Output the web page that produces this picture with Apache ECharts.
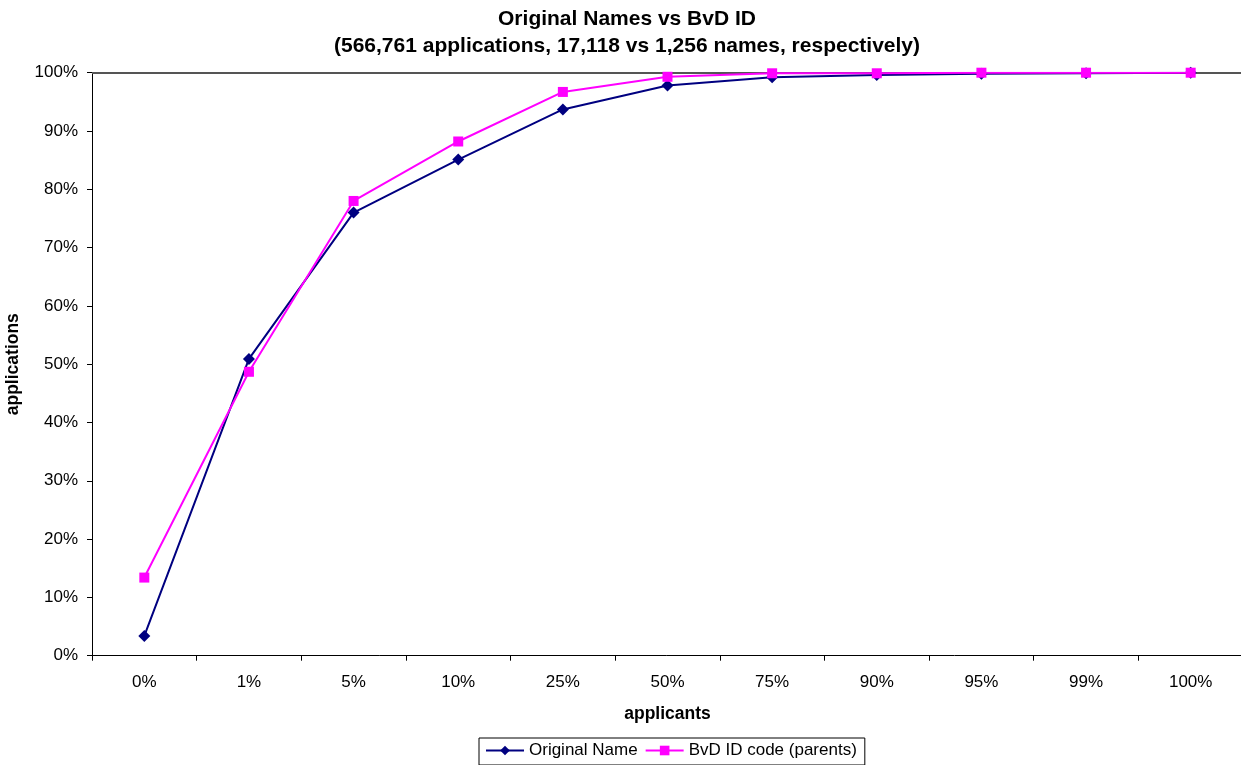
<!DOCTYPE html>
<html>
<head>
<meta charset="utf-8">
<script src="https://cdn.jsdelivr.net/npm/echarts@6/dist/echarts.min.js"></script>
<style>html,body{margin:0;padding:0;background:#fff;}#chart{width:1241px;height:765px;}</style>
</head>
<body>
<div id="chart"></div>
<script>
const categories = ['0%','1%','5%','10%','25%','50%','75%','90%','95%','99%','100%'];
const originalName = [0.034, 0.509, 0.760, 0.851, 0.937, 0.978, 0.992, 0.996, 0.998, 0.999, 1.0];
const bvdParents = [0.134, 0.487, 0.780, 0.882, 0.967, 0.993, 0.999, 0.999, 1.0, 1.0, 1.0];
const seriesNames = ['Original Name', 'BvD ID code (parents)'];
const titleLines = ['Original Names vs BvD ID', '(566,761 applications, 17,118 vs 1,256 names, respectively)'];

const FONT = 'Liberation Sans, Arial, sans-serif';
const chart = echarts.init(document.getElementById('chart'), null, {renderer: 'canvas'});
chart.setOption({
  animation: false,
  backgroundColor: '#fff',
  title: {
    text: titleLines.join('\n'),
    left: 622, textAlign: 'center', top: 1,
    textStyle: {fontFamily: FONT, fontSize: 21, fontWeight: 'bold', color: '#000', lineHeight: 27}
  },
  legend: {
    data: seriesNames,
    left: 479, top: 738,
    padding: [4, 8, 6, 6],
    itemGap: 7,
    itemWidth: 38, itemHeight: 12,
    borderColor: '#000', borderWidth: 1, borderRadius: 0,
    textStyle: {fontFamily: FONT, fontSize: 17, color: '#000'}
  },
  grid: {left: 92, right: -2, top: 72.7, bottom: 109.3, containLabel: false, outerBoundsMode: 'none'},
  xAxis: {
    type: 'category', data: categories, boundaryGap: true,
    name: 'applicants', nameLocation: 'middle', nameGap: 49,
    nameTextStyle: {fontFamily: FONT, fontSize: 17.5, fontWeight: 'bold', color: '#000'},
    axisLine: {lineStyle: {color: '#000', width: 1}},
    axisTick: {show: true, alignWithLabel: false, length: 5, lineStyle: {color: '#000'}},
    axisLabel: {fontFamily: FONT, fontSize: 17, color: '#000', margin: 18},
    splitLine: {show: false}
  },
  yAxis: {
    type: 'value', min: 0, max: 1, interval: 0.1,
    name: 'applications', nameLocation: 'middle', nameGap: 70, nameRotate: 90,
    nameTextStyle: {fontFamily: FONT, fontSize: 17.5, fontWeight: 'bold', color: '#000'},
    axisLine: {show: true, lineStyle: {color: '#000', width: 1}},
    axisTick: {show: true, length: 5, lineStyle: {color: '#000'}},
    axisLabel: {fontFamily: FONT, fontSize: 17, color: '#000', margin: 14,
      formatter: v => Math.round(v * 100) + '%'},
    splitLine: {show: false}
  },
  series: [
    {
      name: seriesNames[0], type: 'line', data: originalName,
      symbol: 'diamond', symbolSize: 12,
      itemStyle: {color: '#000080'},
      lineStyle: {color: '#000080', width: 2},
      z: 3,
      markLine: {
        silent: true, symbol: ['none','none'], label: {show: false},
        lineStyle: {color: '#555', width: 2, type: 'solid'},
        data: [{yAxis: 1}], z: 1
      }
    },
    {
      name: seriesNames[1], type: 'line', data: bvdParents,
      symbol: 'rect', symbolSize: 10,
      itemStyle: {color: '#FF00FF'},
      lineStyle: {color: '#FF00FF', width: 2},
      z: 4
    }
  ]
});
</script>
</body>
</html>
